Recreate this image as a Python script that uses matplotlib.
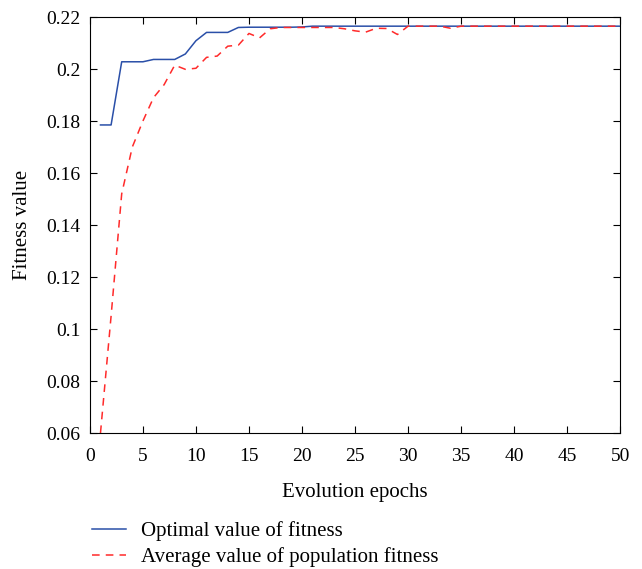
import numpy as np
import matplotlib.pyplot as plt

plt.rcParams['font.family'] = 'Liberation Serif'
plt.rcParams['font.size'] = 13

epochs = np.arange(1, 51)
best = [0.1785, 0.1785, 0.2028, 0.2028, 0.2028, 0.2037, 0.2037, 0.2037, 0.2058, 0.2109,
        0.2141, 0.2141, 0.2141, 0.2160, 0.2161, 0.2161, 0.2161, 0.2161, 0.2161, 0.2162] + [0.2165] * 30
avg = [0.060, 0.105, 0.152, 0.170, 0.180, 0.189, 0.194, 0.2015, 0.1999, 0.2003,
       0.2045, 0.2050, 0.2088, 0.2092, 0.2137, 0.2120, 0.2155, 0.2160, 0.2160, 0.2160,
       0.2160, 0.2160, 0.2160, 0.2155, 0.2147, 0.2142, 0.2157, 0.2156, 0.2133, 0.2165,
       0.2165, 0.2165, 0.2165, 0.2157] + [0.2165] * 16

fig = plt.figure(figsize=(6.42, 5.69), dpi=100)
ax = fig.add_axes([0.140, 0.239, 0.826, 0.731])

ax.plot(epochs, best, color='#2a4fa8', lw=1.1, label='Optimal value of fitness')
ax.plot(epochs, avg, color='#ff2a2a', lw=1.1, ls=(0, (5, 4)), label='Average value of population fitness')

ax.set_xlim(0, 50)
ax.set_ylim(0.06, 0.22)
ax.set_xticks(np.arange(0, 51, 5))
ax.set_yticks(np.arange(0.06, 0.2201, 0.02))
ax.set_yticklabels(['0.06', '0.08', '0.1', '0.12', '0.14', '0.16', '0.18', '0.2', '0.22'])
ax.tick_params(direction='in', top=True, right=True, length=5, labelsize=14)
ax.tick_params(axis='x', pad=11)
ax.tick_params(axis='y', pad=7)
ax.set_xlabel('Evolution epochs', fontsize=15, labelpad=13)
ax.set_ylabel('Fitness value', fontsize=15, labelpad=10)

fig.legend(loc='upper left', bbox_to_anchor=(0.143, 0.084), frameon=False, fontsize=15,
           handlelength=1.65, handletextpad=0.7, labelspacing=0.3,
           borderaxespad=0, borderpad=0)

fig.savefig('out.png', dpi=100)
